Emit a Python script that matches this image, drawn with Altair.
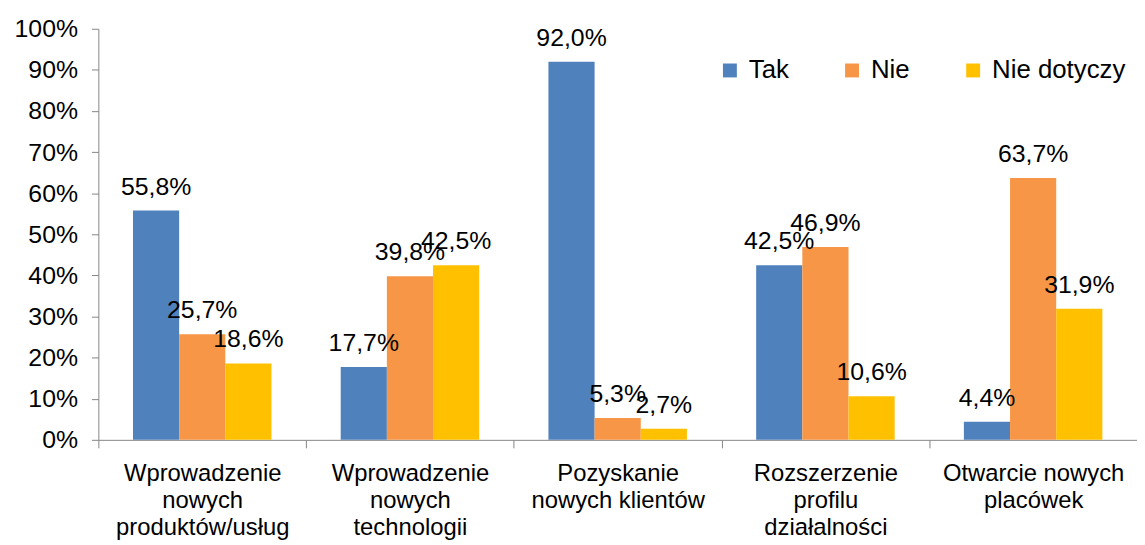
import altair as alt
import pandas as pd

categories = [
    "Wprowadzenie|nowych|produktów/usług",
    "Wprowadzenie|nowych|technologii",
    "Pozyskanie|nowych klientów",
    "Rozszerzenie|profilu|działalności",
    "Otwarcie nowych|placówek",
]
series = ["Tak", "Nie", "Nie dotyczy"]
tak = [55.8, 17.7, 92.0, 42.5, 4.4]
nie = [25.7, 39.8, 5.3, 46.9, 63.7]
nie_dotyczy = [18.6, 42.5, 2.7, 10.6, 31.9]
colors = ["#4F81BD", "#F79646", "#FFC000"]

rows = []
for s, vals in zip(series, [tak, nie, nie_dotyczy]):
    for c, v in zip(categories, vals):
        rows.append({"cat": c, "series": s, "value": v / 100.0,
                     "label": f"{v:.1f}".replace(".", ",") + "%"})
df = pd.DataFrame(rows)

FONT = "Liberation Sans"

x = alt.X("cat:N", sort=categories, title=None,
          scale=alt.Scale(paddingInner=0, paddingOuter=0),
          axis=alt.Axis(labelExpr="split(datum.label, '|')", labelAngle=0,
                        labelFontSize=24, labelFont=FONT, labelColor="#000000",
                        labelLineHeight=27, labelPadding=14, labelBaseline="top",
                        tickBand="extent", tickSize=8, tickColor="#868686",
                        domainColor="#868686", labelLimit=300))
xo = alt.XOffset("series:N", sort=series,
                 scale=alt.Scale(paddingInner=0, paddingOuter=0.75))
y = alt.Y("value:Q", title=None,
          scale=alt.Scale(domain=[0, 1], nice=False),
          axis=alt.Axis(format=".0%", values=[i / 10 for i in range(11)],
                        labelFontSize=25, labelFont=FONT, labelColor="#000000",
                        tickSize=7, tickColor="#868686", domainColor="#868686",
                        labelPadding=14, grid=False))

bars = alt.Chart(df).mark_bar().encode(
    x=x, xOffset=xo, y=y,
    color=alt.Color("series:N", sort=series,
                    scale=alt.Scale(domain=series, range=colors),
                    legend=alt.Legend(title=None, orient="none", direction="horizontal",
                                      legendX=623, legendY=29, labelFontSize=26,
                                      labelFont=FONT, labelColor="#000000",
                                      symbolType="square", symbolSize=196,
                                      symbolStrokeWidth=0, columnPadding=50,
                                      labelOffset=6, padding=0)),
)

labels = alt.Chart(df).mark_text(fontSize=25, font=FONT, color="#000000",
                                 baseline="alphabetic", dy=-16).encode(
    x=alt.X("cat:N", sort=categories), xOffset=alt.XOffset("series:N", sort=series),
    y=alt.Y("value:Q"), text="label:N",
)

chart = (bars + labels).properties(
    width=1046, height=414,
    autosize=alt.AutoSizeParams(type="none"),
    padding={"left": 91, "top": 19, "right": 0, "bottom": 104},
).configure_view(stroke=None).configure_axis(grid=False)

chart.save("out.html", embed_options={"renderer": "svg", "actions": False})
